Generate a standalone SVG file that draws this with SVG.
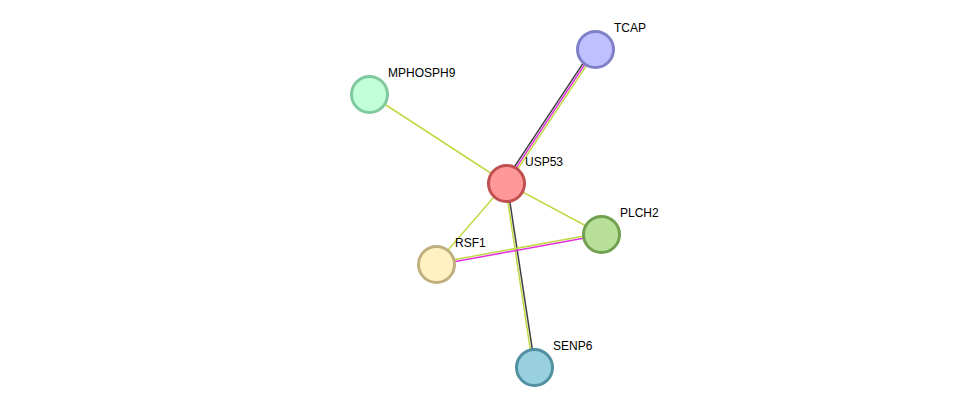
<svg xmlns="http://www.w3.org/2000/svg" width="976" height="413" viewBox="0 0 976 413">
<style>
.e{stroke-width:1.5;fill:none}
.g{stroke:#c2d844}
.m{stroke:#e030e0}
.k{stroke:#404040}
.n{stroke-width:3}
.t{font-family:"Liberation Sans",Arial,sans-serif;font-size:12px;fill:#000}
</style>
<rect width="976" height="413" fill="#fff"/>
<g id="edges">
<line class="e k" x1="504.3" y1="181.9" x2="593.3" y2="47.9"/>
<line class="e m" x1="506" y1="183" x2="595" y2="49"/>
<line class="e g" x1="507.7" y1="184.1" x2="596.7" y2="50.1"/>
<line class="e g" x1="505" y1="183.1" x2="533" y2="367.1"/>
<line class="e k" x1="507" y1="182.9" x2="535" y2="366.9"/>
<line class="e g" x1="506" y1="183" x2="369" y2="94"/>
<line class="e g" x1="506" y1="183" x2="436" y2="264"/>
<line class="e g" x1="506" y1="183" x2="601" y2="234"/>
<line class="e g" x1="435.8" y1="263" x2="600.8" y2="233"/>
<line class="e m" x1="436.2" y1="265" x2="601.2" y2="235"/>
</g>
<g id="TCAP"><circle class="n" cx="595.5" cy="49.5" r="18" fill="#c0c0ff" stroke="#8080c8"/><text class="t" x="614" y="32">TCAP</text></g>
<g id="MPHOSPH9"><circle class="n" cx="369.5" cy="94.5" r="18" fill="#c0ffd8" stroke="#80c8a0"/><text class="t" x="388" y="77">MPHOSPH9</text></g>
<g id="USP53"><circle class="n" cx="506.5" cy="183.5" r="18" fill="#ff9999" stroke="#c05050"/><text class="t" x="525" y="166">USP53</text></g>
<g id="PLCH2"><circle class="n" cx="601.5" cy="234.5" r="18" fill="#b8e098" stroke="#70a050"/><text class="t" x="620" y="217">PLCH2</text></g>
<g id="RSF1"><circle class="n" cx="436.5" cy="264.5" r="18" fill="#fff2c0" stroke="#c0b080"/><text class="t" x="455" y="247">RSF1</text></g>
<g id="SENP6"><circle class="n" cx="534.5" cy="367.5" r="18" fill="#98d0e0" stroke="#5090a0"/><text class="t" x="553" y="350">SENP6</text></g>
</svg>
